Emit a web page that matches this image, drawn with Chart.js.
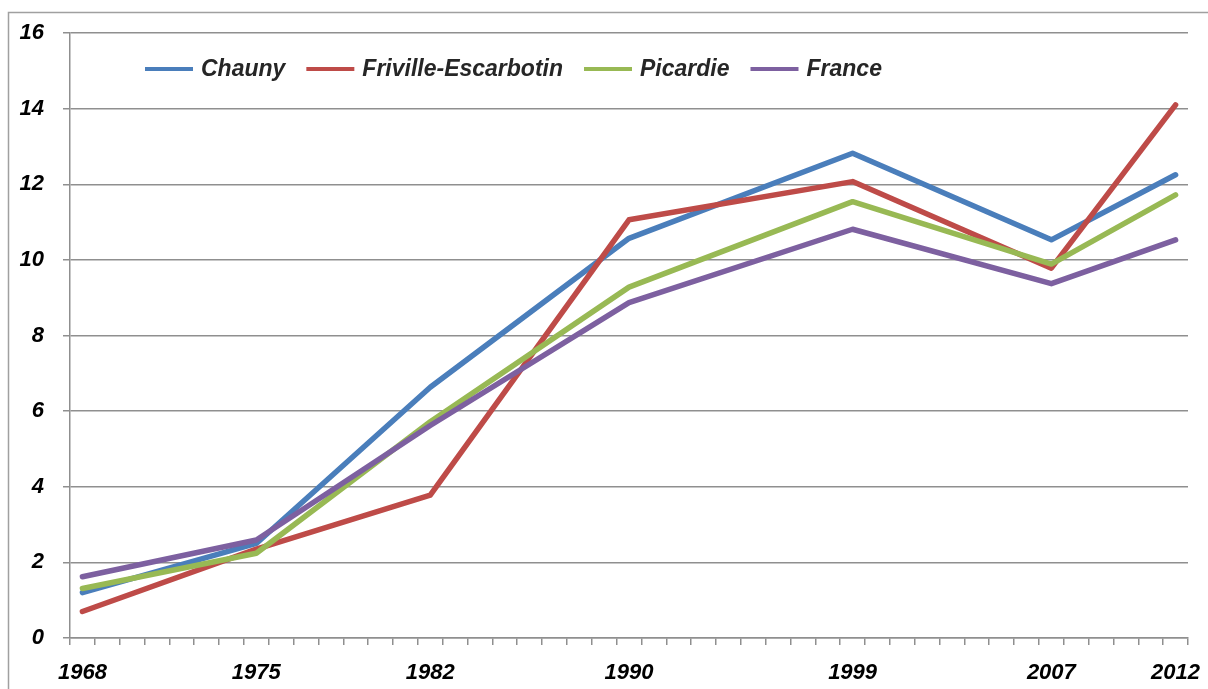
<!DOCTYPE html>
<html>
<head>
<meta charset="utf-8">
<script src="https://cdn.jsdelivr.net/npm/chart.js@4.4.0/dist/chart.umd.min.js"></script>
<style>
  html, body { margin: 0; padding: 0; background: #fff; }
  #wrap { width: 1208px; height: 689px; }
</style>
</head>
<body>
<div id="wrap"><canvas id="c" width="1208" height="689"></canvas></div>
<script>
// ---- data ----
const censusYears = [1968, 1975, 1982, 1990, 1999, 2007, 2012];
const seriesNames = ['Chauny', 'Friville-Escarbotin', 'Picardie', 'France'];
const chauny   = [1.20, 2.50, 6.63, 10.57, 12.82, 10.53, 12.25];
const friville = [0.70, 2.35, 3.78, 11.06, 12.07, 9.78, 14.10];
const picardie = [1.31, 2.24, 5.72, 9.28, 11.54, 9.89, 11.72];
const france   = [1.62, 2.59, 5.62, 8.87, 10.81, 9.37, 10.53];
const yTicks = [0, 2, 4, 6, 8, 10, 12, 14, 16];

const colors = ['#4A7EBB', '#BE4B48', '#98B954', '#7D60A0'];
const allSeries = [chauny, friville, picardie, france];

// category axis: every year from first to last census year
const yearLabels = [];
for (let y = censusYears[0]; y <= censusYears[censusYears.length - 1]; y++) yearLabels.push(String(y));

const FONT = 'Liberation Sans';
const GRID = '#8f8f8f';

const datasets = allSeries.map((vals, i) => ({
  label: seriesNames[i],
  data: censusYears.map((yr, j) => ({ x: String(yr), y: vals[j] })),
  borderColor: colors[i],
  backgroundColor: colors[i],
  borderWidth: 5.5,
  borderCapStyle: 'round',
  borderJoinStyle: 'round',
  pointRadius: 0,
  tension: 0,
  fill: false,
  order: allSeries.length - i
}));

const framePlugin = {
  id: 'frame',
  beforeDraw(chart) {
    const ctx = chart.ctx;
    ctx.save();
    ctx.fillStyle = '#fff';
    ctx.fillRect(0, 0, chart.width, chart.height);
    ctx.strokeStyle = '#a0a0a0';
    ctx.lineWidth = 1.5;
    ctx.strokeRect(8.5, 12.5, chart.width + 20, chart.height + 20);
    ctx.restore();
  }
};

const legendPlugin = {
  id: 'inlineLegend',
  afterDatasetsDraw(chart) {
    const ctx = chart.ctx;
    ctx.save();
    ctx.font = 'italic bold 23px "' + FONT + '"';
    ctx.textBaseline = 'middle';
    let x = 145;
    const y = 69;
    chart.data.datasets.forEach(ds => {
      ctx.strokeStyle = ds.borderColor;
      ctx.lineWidth = 4;
      ctx.lineCap = 'butt';
      ctx.beginPath();
      ctx.moveTo(x, y);
      ctx.lineTo(x + 48, y);
      ctx.stroke();
      ctx.fillStyle = '#262626';
      ctx.fillText(ds.label, x + 56, y + 1);
      const w = ctx.measureText(ds.label).width;
      x += 56 + w + 21;
    });
    ctx.restore();
  }
};

new Chart(document.getElementById('c'), {
  type: 'line',
  data: { labels: yearLabels, datasets },
  options: {
    responsive: false,
    animation: false,
    devicePixelRatio: 1,
    layout: { padding: { left: 0, right: 20, top: 33, bottom: 0 } },
    plugins: { legend: { display: false }, tooltip: { enabled: false } },
    scales: {
      x: {
        type: 'category',
        offset: true,
        grid: { offset: true, drawOnChartArea: false, drawTicks: true, tickLength: 7, color: GRID, lineWidth: 1.5 },
        border: { display: true, color: GRID, width: 1.5 },
        ticks: {
          autoSkip: false, maxRotation: 0, minRotation: 0, padding: 15,
          color: '#000',
          font: { family: FONT, size: 22, style: 'italic', weight: 'bold' },
          callback: function (value) {
            const lbl = this.getLabelForValue(value);
            return censusYears.includes(+lbl) ? lbl : '';
          }
        },
        afterFit: (s) => { s.height = 51; s.paddingLeft = 0; s.paddingRight = 0; }
      },
      y: {
        min: 0, max: 16,
        afterBuildTicks: (s) => { s.ticks = yTicks.map(v => ({ value: v })); },
        grid: { color: GRID, lineWidth: 1.5, drawTicks: true, tickLength: 7 },
        border: { display: true, color: GRID, width: 1.5 },
        ticks: {
          padding: 19, color: '#000',
          font: { family: FONT, size: 22, style: 'italic', weight: 'bold' }
        },
        afterFit: (s) => { s.width = 70; s.paddingTop = 0; s.paddingBottom = 0; }
      }
    }
  },
  plugins: [framePlugin, legendPlugin]
});
</script>
</body>
</html>
